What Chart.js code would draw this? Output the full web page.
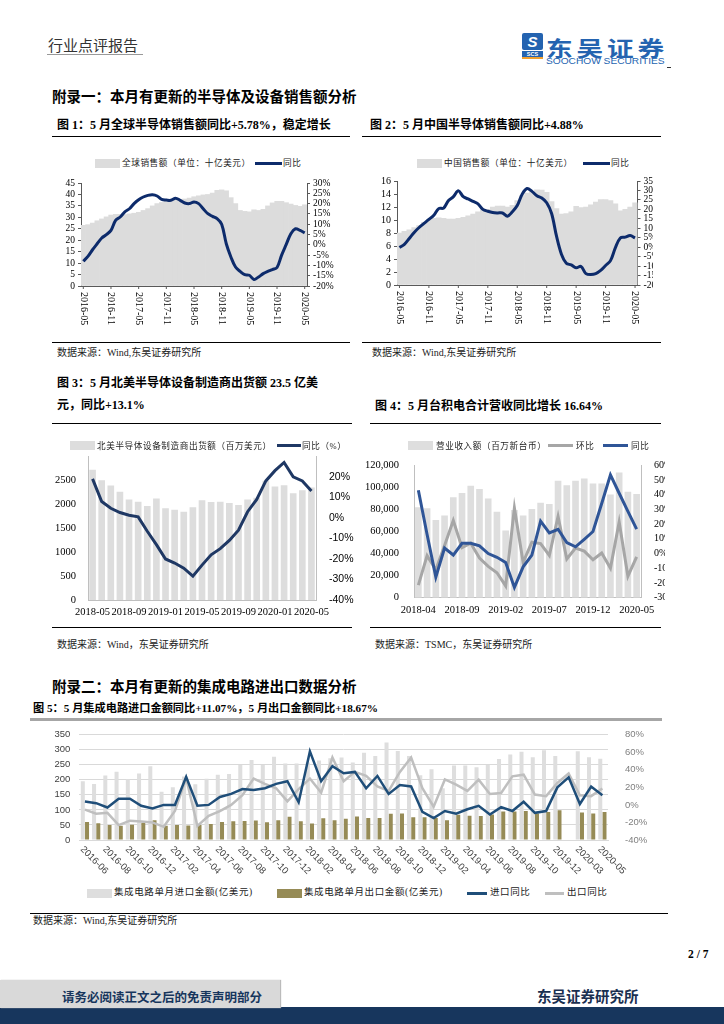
<!DOCTYPE html>
<html>
<head>
<meta charset="utf-8">
<script src="https://cdn.jsdelivr.net/npm/chart.js@4.4.1/dist/chart.umd.min.js"></script>
<style>
body{margin:0;width:724px;height:1024px;position:relative;overflow:hidden;background:#fff;
  font-family:"Liberation Serif","Noto Sans CJK SC",serif;color:#000}
div{position:absolute;white-space:nowrap;line-height:1}
.cv{z-index:1}
.lg{z-index:2;font-size:8.6px;color:#222;letter-spacing:0.6px;transform:translateY(-50%)}
.sw{z-index:2}
.ttl{font-weight:bold;font-size:14.5px}
.fig{font-weight:bold;font-size:12px}
.src{font-size:10px;color:#222}
.hl{height:1.3px;background:#000}
</style>
</head>
<body>

<!-- header -->
<div style="left:48px;top:37px;font-size:15px;color:#333;font-family:'Noto Sans CJK SC'">行业点评报告</div>
<div style="left:47px;top:54px;width:96px;height:1px;background:#999"></div>
<div style="left:522px;top:33px;width:21px;height:17px;background:#2463b0;border-radius:2px;color:#fff;font:bold italic 15px 'Liberation Sans';text-align:center;line-height:17px">S</div>
<div style="left:522px;top:51px;width:21px;height:6px;background:#2463b0;color:#fff;font:bold 5.5px 'Liberation Sans';line-height:6px;text-align:center">SCS</div>
<div style="left:522px;top:57px;width:21px;height:2px;background:#f0a030"></div>
<div style="left:546px;top:32px;font:bold 21px 'Noto Sans CJK SC';color:#2463b0;letter-spacing:3px;transform:scaleX(1.27);transform-origin:left">东吴证券</div>
<div style="left:546px;top:55px;font:9.5px 'Liberation Sans';color:#2463b0;transform:scaleX(1.07);transform-origin:left">SOOCHOW SECURITIES</div>
<div style="left:667px;top:67px;width:4px;height:1px;background:#333"></div>

<div class="ttl" style="left:52px;top:90px">附录一：本月有更新的半导体及设备销售额分析</div>
<div class="fig" style="left:57px;top:119px">图 1：5 月全球半导体销售额同比+5.78%，稳定增长</div>
<div class="fig" style="left:370px;top:119px">图 2：5 月中国半导体销售额同比+4.88%</div>
<div class="hl" style="left:52px;top:136px;width:298px"></div>
<div class="hl" style="left:362px;top:136px;width:299px"></div>

<!-- legends 1,2 -->
<div class="sw" style="left:95px;top:159px;width:25px;height:9px;background:#dcdcdc"></div>
<div class="lg" style="left:122px;top:163px">全球销售额（单位：十亿美元）</div>
<div class="sw" style="left:255px;top:162px;width:27px;height:3px;background:#0d2b6b"></div>
<div class="lg" style="left:283px;top:163px">同比</div>
<div class="sw" style="left:417px;top:159px;width:25px;height:9px;background:#dcdcdc"></div>
<div class="lg" style="left:444px;top:163px">中国销售额（单位：十亿美元）</div>
<div class="sw" style="left:583px;top:162px;width:27px;height:3px;background:#0d2b6b"></div>
<div class="lg" style="left:611px;top:163px">同比</div>

<div class="cv" style="left:40px;top:172px;width:300px;height:170px"><canvas id="c1"></canvas></div>
<div class="cv" style="left:355px;top:172px;width:298px;height:170px;overflow:hidden"><canvas id="c2"></canvas></div>

<div class="hl" style="left:52px;top:342px;width:298px"></div>
<div class="hl" style="left:362px;top:342px;width:299px"></div>
<div class="src" style="left:57px;top:348px">数据来源：Wind,东吴证券研究所</div>
<div class="src" style="left:372px;top:348px">数据来源：Wind,东吴证券研究所</div>

<div class="fig" style="left:57px;top:377px">图 3：5 月北美半导体设备制造商出货额 23.5 亿美</div>
<div class="fig" style="left:57px;top:399px">元，同比+13.1%</div>
<div class="fig" style="left:375px;top:400px">图 4：5 月台积电合计营收同比增长 16.64%</div>
<div class="hl" style="left:52px;top:423px;width:300px"></div>
<div class="hl" style="left:370px;top:423px;width:291px"></div>

<!-- legends 3,4 -->
<div class="sw" style="left:70px;top:441px;width:25px;height:9px;background:#dddddd"></div>
<div class="lg" style="left:97px;top:446px">北美半导体设备制造商出货额（百万美元）</div>
<div class="sw" style="left:277px;top:444px;width:24px;height:3px;background:#1f3864"></div>
<div class="lg" style="left:302px;top:446px">同比（%）</div>
<div class="sw" style="left:408px;top:441px;width:25px;height:9px;background:#dedede"></div>
<div class="lg" style="left:436px;top:446px">营业收入额（百万新台币）</div>
<div class="sw" style="left:548px;top:444px;width:25px;height:3px;background:#a6a6a6"></div>
<div class="lg" style="left:576px;top:446px">环比</div>
<div class="sw" style="left:603px;top:444px;width:25px;height:3px;background:#2f5597"></div>
<div class="lg" style="left:631px;top:446px">同比</div>

<div class="cv" style="left:40px;top:445px;width:315px;height:182px"><canvas id="c3"></canvas></div>
<div class="cv" style="left:360px;top:452px;width:305px;height:175px;overflow:hidden"><canvas id="c4"></canvas></div>

<div class="hl" style="left:52px;top:627px;width:300px"></div>
<div class="hl" style="left:370px;top:627px;width:291px"></div>
<div class="src" style="left:57px;top:640px">数据来源：Wind，东吴证券研究所</div>
<div class="src" style="left:375px;top:640px">数据来源：TSMC，东吴证券研究所</div>

<div class="ttl" style="left:52px;top:680px">附录二：本月有更新的集成电路进出口数据分析</div>
<div class="fig" style="left:33px;top:703px;font-size:11.2px">图 5：5 月集成电路进口金额同比+11.07%，5 月出口金额同比+18.67%</div>
<div style="left:30px;top:718px;width:632px;height:2.5px;background:#a6a6a6"></div>

<div class="cv" style="left:30px;top:720px;width:635px;height:165px"><canvas id="c5"></canvas></div>

<!-- legend 5 -->
<div class="sw" style="left:87px;top:889px;width:25px;height:9px;background:#dedede"></div>
<div class="lg" style="left:114px;top:893px;font-size:9.5px">集成电路单月进口金额(亿美元)</div>
<div class="sw" style="left:277px;top:889px;width:25px;height:9px;background:#968b56"></div>
<div class="lg" style="left:304px;top:893px;font-size:9.5px">集成电路单月出口金额(亿美元)</div>
<div class="sw" style="left:467px;top:892px;width:20px;height:3px;background:#1f4e79"></div>
<div class="lg" style="left:490px;top:893px;font-size:9.5px">进口同比</div>
<div class="sw" style="left:545px;top:892px;width:19px;height:3px;background:#bfbfbf"></div>
<div class="lg" style="left:567px;top:893px;font-size:9.5px">出口同比</div>

<div style="left:30px;top:913px;width:638px;height:1px;background:#000"></div>
<div class="src" style="left:33px;top:916px">数据来源：Wind,东吴证券研究所</div>

<div style="left:688px;top:949px;font-weight:bold;font-size:11.5px">2 / 7</div>
<div style="left:537px;top:985px;font:bold 14.5px 'Noto Sans CJK SC';color:#1a2f50">东吴证券研究所</div>
<div style="left:0;top:1007px;width:724px;height:17px;background:#17365d"></div>
<div style="left:0;top:980px;width:280px;height:28px;background:#d9d9d9;box-shadow:1px 0 1px #bbb"></div>
<div style="left:62px;top:987px;font:bold 12.5px 'Noto Sans CJK SC';color:#17365d">请务必阅读正文之后的免责声明部分</div>

<script>
// ---- 图1 / 图2: 全球与中国半导体销售额 (2016-05 ~ 2020-05)
const salesMonths = [
  '2016-05','2016-06','2016-07','2016-08','2016-09','2016-10','2016-11','2016-12',
  '2017-01','2017-02','2017-03','2017-04','2017-05','2017-06','2017-07','2017-08','2017-09','2017-10','2017-11','2017-12',
  '2018-01','2018-02','2018-03','2018-04','2018-05','2018-06','2018-07','2018-08','2018-09','2018-10','2018-11','2018-12',
  '2019-01','2019-02','2019-03','2019-04','2019-05','2019-06','2019-07','2019-08','2019-09','2019-10','2019-11','2019-12',
  '2020-01','2020-02','2020-03','2020-04','2020-05'];
const salesTicks = ['2016-05','2016-11','2017-05','2017-11','2018-05','2018-11','2019-05','2019-11','2020-05'];
const globalSales = [26.5,26.8,27.5,28.5,29.3,30.2,31.0,31.3,31.3,31.2,31.5,31.8,32.2,33.0,33.8,35.0,36.0,36.5,37.3,37.5,
  37.6,37.8,38.0,38.4,39.0,39.4,39.8,40.0,40.6,41.8,42.0,41.6,38.6,36.0,33.0,32.6,32.4,33.3,33.0,33.5,
  35.0,36.3,37.0,37.0,36.4,35.8,35.2,34.8,35.5];
const globalYoY = [-8,-5.6,-2.4,0.5,3.3,4.9,7,11.9,13.5,16,17.5,20,21.9,23.2,24,24.3,23.7,22,21.7,21.6,
  22.6,21.6,20.3,20,20.8,20,17.5,15.1,13.8,12.7,10,0.5,-5.9,-10.8,-12.9,-14.5,-14.8,-16.8,-15.6,-14,
  -12.9,-12,-11,-5,0.2,5.4,7.8,7,5.78];
const chinaSales = [8.0,8.25,8.5,8.85,9.15,9.65,10.0,10.25,10.35,10.25,10.15,10.15,10.25,10.4,10.65,10.9,11.25,11.5,11.65,12.0,
  12.15,12.15,12.0,12.25,13.0,13.75,14.15,14.4,14.65,14.6,14.25,12.85,11.75,10.9,11.0,11.25,12.1,11.9,12.0,12.35,
  12.75,13.15,13.15,13.0,12.5,11.4,11.65,12.0,12.65];
const chinaYoY = [-0.2,1.5,4.6,7.8,10.4,12.6,14.7,16.9,20.4,20.7,24.7,26.7,29.8,26.7,25.5,24.2,22.9,20,19,18.3,
  18.1,18.1,16.4,18.7,22,28,31,29.5,27.2,26,23.5,17.8,5.8,-3.7,-8.5,-9.4,-10.9,-10.2,-14,-14.5,
  -14,-12.3,-9.7,-7.1,-0.2,4.9,5.3,6.2,4.88];

// ---- 图3: 北美半导体设备出货额 (2018-05 ~ 2020-05)
const naMonths = ['2018-05','2018-06','2018-07','2018-08','2018-09','2018-10','2018-11','2018-12',
  '2019-01','2019-02','2019-03','2019-04','2019-05','2019-06','2019-07','2019-08','2019-09','2019-10','2019-11','2019-12',
  '2020-01','2020-02','2020-03','2020-04','2020-05'];
const naTicks = ['2018-05','2018-09','2019-01','2019-05','2019-09','2020-01','2020-05'];
const naShip = [2720,2500,2390,2260,2100,2050,1965,2120,1915,1885,1840,1935,2085,2045,2050,2025,1985,2100,2135,
  2490,2370,2395,2230,2290,2350];
const naYoY = [19,8,4.7,2.6,1.3,0.5,-6.5,-13,-20,-22,-24.5,-28.4,-23,-18,-15,-11,-6,3,9,18,23,27,20,18,13.1];

// ---- 图4: 台积电营收 (2018-04 ~ 2020-05)
const tsmcMonths = ['2018-04','2018-05','2018-06','2018-07','2018-08','2018-09','2018-10','2018-11','2018-12',
  '2019-01','2019-02','2019-03','2019-04','2019-05','2019-06','2019-07','2019-08','2019-09','2019-10','2019-11','2019-12',
  '2020-01','2020-02','2020-03','2020-04','2020-05'];
const tsmcTicks = ['2018-04','2018-09','2019-02','2019-07','2019-12','2020-05'];
const tsmcRev = [82000,81000,70500,74500,91000,95000,101500,98500,90000,78000,61000,79500,74500,80500,86000,85000,
  106000,102000,106000,108000,103500,103500,93500,113500,96000,94000];
const tsmcMoM = [-21.5,-1.4,-11,5.5,22.5,4,7,-3,-8.7,-13,-22,31,-6,7.7,6.8,-1.3,25.2,-3.7,3.8,1.7,-4.2,0.4,-9.9,21.5,-15.4,-2.3];
const tsmcYoY = [43,13,-16,3.7,-1,7,7,5.3,0,-2.5,-6,-23,-9,-1,22,14,16.5,7.5,4.6,9.7,15,34,53.5,41,28.7,16.64];

// ---- 图5: 集成电路进出口 (2016-06 ~ 2020-05, 2020年1-2月合并)
const icMonths = ['2016-06','2016-07','2016-08','2016-09','2016-10','2016-11','2016-12',
  '2017-01','2017-02','2017-03','2017-04','2017-05','2017-06','2017-07','2017-08','2017-09','2017-10','2017-11','2017-12',
  '2018-01','2018-02','2018-03','2018-04','2018-05','2018-06','2018-07','2018-08','2018-09','2018-10','2018-11','2018-12',
  '2019-01','2019-02','2019-03','2019-04','2019-05','2019-06','2019-07','2019-08','2019-09','2019-10','2019-11','2019-12',
  '2020-02','2020-03','2020-04','2020-05'];
const icTicks = ['2016-06','2016-08','2016-10','2016-12','2017-02','2017-04','2017-06','2017-08','2017-10','2017-12',
  '2018-02','2018-04','2018-06','2018-08','2018-10','2018-12','2019-02','2019-04','2019-06','2019-08','2019-10','2019-12',
  '2020-03','2020-05'];
const icImport = [195,186,214,227,202,221,245,160,175,211,185,204,217,219,249,266,249,277,254,254,258,264,272,274,258,
  290,279,324,296,279,215,235,172,248,248,242,249,269,284,293,275,298,279,null,295,275,270];
const icExport = [60,56,50,47,51,57,66,47,50,48,50,53,60,62,63,65,59,66,77,62,55,72,66,71,78,
  73,73,87,88,76,76,73,66,84,81,80,85,95,95,96,88,93,99,null,91,88,93];
const importYoY = [4,2,-3,7,7,-1,-4,0,0,32,-1,0,9,12.5,18,17,19,24,27,3,61,27,44,36,37.6,
  19,33,12.5,22.6,21,-8,-15,-7,-10,-5,-1,-11,-2.5,-7,3.6,-9,-7,20,31.5,1,21,11.07];
const exportYoY = [-5.4,-10,-9,-23,-18,-19,-20,-25,-7,30.5,-24,-12.5,-7,0,11,30,24,19,4,18,30,14,54,27,37.6,
  33,21,16,37.6,54,19,-2,29,23,16,28.7,12.5,13.6,32.6,34.4,11.8,10,25,35.8,11,10,18.67];

const SERIF = "'Liberation Serif','Noto Sans CJK SC',serif";
const SANS = "'Liberation Sans','Noto Sans CJK SC',sans-serif";
Chart.defaults.animation = false;
Chart.defaults.font.family = SERIF;
Chart.defaults.color = '#000';
Chart.defaults.plugins.legend.display = false;
Chart.defaults.plugins.tooltip.enabled = false;

// x labels drawn at the category positions of the x scale
function xLabels(cats, ticks, o) {
  return {
    id: 'xlab',
    afterDraw(chart) {
      const ctx = chart.ctx, xs = chart.scales.x, y0 = chart.chartArea.bottom;
      ctx.save();
      ctx.font = o.font;
      ctx.fillStyle = o.color || '#000';
      ctx.strokeStyle = o.tickColor || '#595959';
      ctx.lineWidth = 1;
      ticks.forEach(t => {
        const i = cats.indexOf(t);
        if (i < 0) return;
        const x = xs.getPixelForValue(i);
        if (o.tick) {
          ctx.beginPath(); ctx.moveTo(x, y0); ctx.lineTo(x, y0 + o.tick); ctx.stroke();
        }
        ctx.save();
        ctx.translate(x + (o.dx || 0), y0 + o.dy);
        ctx.rotate(o.angle || 0);
        ctx.textAlign = o.align || 'center';
        ctx.textBaseline = 'middle';
        ctx.fillText(t, 0, 0);
        ctx.restore();
      });
      ctx.restore();
    }
  };
}
const W = w => s => { s.width = w; };
const H = h => s => { s.height = h; };
const pct = v => v + '%';

// 图1
const AX = '#595959';
new Chart(document.getElementById('c1'), {
  type: 'bar',
  data: {
    labels: salesMonths,
    datasets: [
      { type: 'line', data: globalYoY, yAxisID: 'y1', borderColor: '#0d2b6b', borderWidth: 3, pointRadius: 0, tension: 0.35 },
      { data: globalSales, yAxisID: 'y', backgroundColor: '#dcdcdc', barPercentage: 1, categoryPercentage: 1 }
    ]
  },
  options: {
    responsive: true, maintainAspectRatio: false,
    layout: { padding: { top: 11 } },
    scales: {
      x: { grid: { display: false }, border: { color: AX }, ticks: { display: false }, afterFit: H(56) },
      y: { position: 'left', min: 0, max: 45, ticks: { stepSize: 5, autoSkip: false, font: { size: 9.5 }, padding: 3 },
           grid: { drawOnChartArea: false, tickLength: 3, color: AX }, border: { color: AX }, afterFit: W(41) },
      y1: { position: 'right', min: -20, max: 30, ticks: { stepSize: 5, autoSkip: false, callback: pct, font: { size: 9.5 }, padding: 3 },
            grid: { drawOnChartArea: false, tickLength: 3, color: AX }, border: { color: AX }, afterFit: W(33) }
    }
  },
  plugins: [xLabels(salesMonths, salesTicks, { font: '10px ' + SERIF, angle: Math.PI / 2, align: 'left', dy: 6, tick: 3 })]
});

// 图2
new Chart(document.getElementById('c2'), {
  type: 'bar',
  data: {
    labels: salesMonths,
    datasets: [
      { type: 'line', data: chinaYoY, yAxisID: 'y1', borderColor: '#0d2b6b', borderWidth: 3, pointRadius: 0, tension: 0.35 },
      { data: chinaSales, yAxisID: 'y', backgroundColor: '#dcdcdc', barPercentage: 1, categoryPercentage: 1 }
    ]
  },
  options: {
    responsive: true, maintainAspectRatio: false,
    layout: { padding: { top: 6.5 } },
    scales: {
      x: { grid: { display: false }, border: { color: AX }, ticks: { display: false }, afterFit: H(57) },
      y: { position: 'left', min: 0, max: 16, ticks: { stepSize: 2, autoSkip: false, font: { size: 10 }, padding: 3 },
           grid: { drawOnChartArea: false, tickLength: 3, color: AX }, border: { color: AX }, afterFit: W(42) },
      y1: { position: 'right', min: -20, max: 35, ticks: { stepSize: 5, autoSkip: false, callback: pct, font: { size: 9.5 }, padding: 3 },
            grid: { drawOnChartArea: false, tickLength: 3, color: AX }, border: { color: AX }, afterFit: W(15.5) }
    }
  },
  plugins: [xLabels(salesMonths, salesTicks, { font: '10px ' + SERIF, angle: Math.PI / 2, align: 'left', dy: 6, tick: 3 })]
});

// 图3
new Chart(document.getElementById('c3'), {
  type: 'bar',
  data: {
    labels: naMonths,
    datasets: [
      { type: 'line', data: naYoY, yAxisID: 'y1', borderColor: '#1f3864', borderWidth: 3, pointRadius: 0, tension: 0 },
      { data: naShip, yAxisID: 'y', backgroundColor: '#dddddd', barPercentage: 1, categoryPercentage: 0.73 }
    ]
  },
  options: {
    responsive: true, maintainAspectRatio: false,
    layout: { padding: { top: 10 } },
    scales: {
      x: { grid: { display: false }, border: { color: '#bfbfbf' }, ticks: { display: false }, afterFit: H(27) },
      y: { position: 'left', min: 0, max: 3000, ticks: { stepSize: 500, autoSkip: false, font: { size: 10.5 }, padding: 4, callback: v => v === 3000 ? '' : v },
           grid: { display: false }, border: { color: '#bfbfbf' }, afterFit: W(48) },
      y1: { position: 'right', min: -40, max: 30, ticks: { stepSize: 10, autoSkip: false, font: { size: 10.5, family: SANS }, padding: 5, callback: v => v === 30 ? '' : v + '%' },
            grid: { display: false }, border: { color: '#bfbfbf' }, afterFit: W(39) }
    }
  },
  plugins: [xLabels(naMonths, naTicks, { font: '10.5px ' + SERIF, dy: 12 })]
});

// 图4
new Chart(document.getElementById('c4'), {
  type: 'bar',
  data: {
    labels: tsmcMonths,
    datasets: [
      { type: 'line', data: tsmcYoY, yAxisID: 'y1', borderColor: '#2f5597', borderWidth: 3, pointRadius: 0, tension: 0 },
      { type: 'line', data: tsmcMoM, yAxisID: 'y1', borderColor: '#a6a6a6', borderWidth: 3, pointRadius: 0, tension: 0 },
      { data: tsmcRev, yAxisID: 'y', backgroundColor: '#dedede', barPercentage: 1, categoryPercentage: 0.76 }
    ]
  },
  options: {
    responsive: true, maintainAspectRatio: false,
    layout: { padding: { top: 11.3 } },
    scales: {
      x: { grid: { display: false }, border: { color: '#bfbfbf' }, ticks: { display: false }, afterFit: H(29.3) },
      y: { position: 'left', min: 0, max: 120000, ticks: { stepSize: 20000, autoSkip: false, font: { size: 10.5 }, padding: 7 },
           grid: { display: false }, border: { color: '#bfbfbf' }, afterFit: W(54) },
      y1: { position: 'right', min: -30, max: 60, ticks: { stepSize: 10, autoSkip: false, font: { size: 10 }, padding: 5, callback: pct },
            grid: { display: false }, border: { color: '#bfbfbf' }, afterFit: W(24) }
    }
  },
  plugins: [xLabels(tsmcMonths, tsmcTicks, { font: '10.5px ' + SERIF, dy: 12.5 })]
});

// 图5
new Chart(document.getElementById('c5'), {
  type: 'bar',
  data: {
    labels: icMonths,
    datasets: [
      { type: 'line', data: importYoY, yAxisID: 'y1', borderColor: '#1f4e79', borderWidth: 2.5, pointRadius: 0, tension: 0, spanGaps: true },
      { type: 'line', data: exportYoY, yAxisID: 'y1', borderColor: '#bfbfbf', borderWidth: 2.5, pointRadius: 0, tension: 0, spanGaps: true },
      { data: icImport, yAxisID: 'y', backgroundColor: '#dedede', barPercentage: 0.95, categoryPercentage: 0.75 },
      { data: icExport, yAxisID: 'y', backgroundColor: '#968b56', barPercentage: 0.95, categoryPercentage: 0.75 }
    ]
  },
  options: {
    responsive: true, maintainAspectRatio: false,
    layout: { padding: { top: 8.3 } },
    scales: {
      x: { grid: { display: false }, border: { color: '#d9d9d9' }, ticks: { display: false }, afterFit: H(45) },
      y: { position: 'left', min: 0, max: 350, ticks: { stepSize: 50, autoSkip: false, font: { size: 9.5, family: SANS }, color: '#404040', padding: 9 },
           grid: { color: '#d9d9d9', drawTicks: false }, border: { display: false }, afterFit: W(49.3) },
      y1: { position: 'right', min: -40, max: 80, ticks: { stepSize: 20, autoSkip: false, font: { size: 9.5, family: SANS }, color: '#7f7f7f', padding: 9, callback: pct },
            grid: { display: false }, border: { display: false }, afterFit: W(57) }
    }
  },
  plugins: [xLabels(icMonths, icTicks, { font: '9.5px ' + SANS, color: '#404040', angle: Math.PI / 4, align: 'left', dx: -3, dy: 8 })]
});
</script>
</body>
</html>
